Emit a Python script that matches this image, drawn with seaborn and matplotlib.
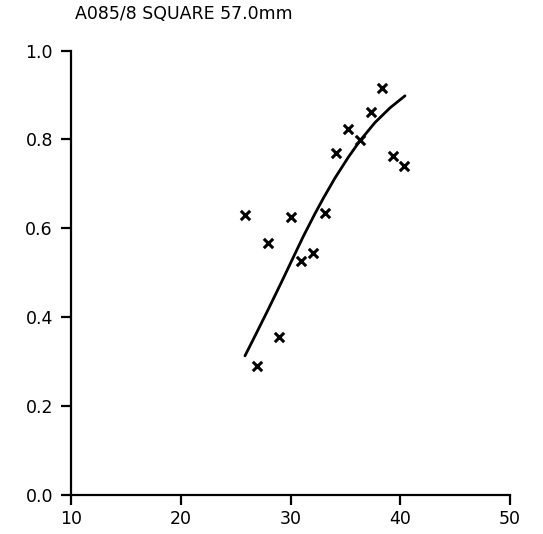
import matplotlib
matplotlib.use("Agg")
import matplotlib.pyplot as plt
import seaborn as sns
import pandas as pd

# scatter data
x_pts = [25.85, 26.92, 27.92, 28.95, 30.02, 30.93, 32.08, 33.14, 34.15, 35.27, 36.33, 37.31, 38.31, 39.37, 40.37]
y_pts = [0.630, 0.290, 0.568, 0.355, 0.626, 0.527, 0.544, 0.634, 0.770, 0.823, 0.799, 0.862, 0.915, 0.763, 0.741]

# fitted curve
x_fit = [25.85, 26.77, 27.98, 29.20, 30.26, 31.17, 32.23, 33.00, 34.05, 35.27, 36.33, 37.70, 39.07, 40.43]
y_fit = [0.313, 0.358, 0.418, 0.480, 0.535, 0.582, 0.633, 0.668, 0.713, 0.760, 0.797, 0.838, 0.871, 0.898]

x_ticks = [10, 20, 30, 40, 50]
y_ticks = [0.0, 0.2, 0.4, 0.6, 0.8, 1.0]
title = "A085/8 SQUARE 57.0mm"

sns.set_style("ticks")
plt.rcParams["font.family"] = ["DejaVu Sans"]
plt.rcParams["text.color"] = "black"

fig = plt.figure(figsize=(5.43, 5.34), dpi=100)
ax = fig.add_axes([71 / 543, 1 - 495 / 534, (510 - 71) / 543, (495 - 50.5) / 534])

pts = pd.DataFrame({"x": x_pts, "y": y_pts})
fit = pd.DataFrame({"x": x_fit, "y": y_fit})

sns.lineplot(data=fit, x="x", y="y", ax=ax, color="black", linewidth=2.0, sort=False)
sns.scatterplot(data=pts, x="x", y="y", ax=ax, marker="x", color="black", s=45, linewidth=2.2)

ax.set_xlim(10, 50)
ax.set_ylim(0, 1.0)
ax.set_xticks(x_ticks)
ax.set_xticklabels([str(v) for v in x_ticks])
ax.set_yticks(y_ticks)
ax.set_yticklabels([f"{v:.1f}" for v in y_ticks])
ax.set_xlabel("")
ax.set_ylabel("")
for s in ["top", "right"]:
    ax.spines[s].set_visible(False)
for s in ["left", "bottom"]:
    ax.spines[s].set_linewidth(1.6)
    ax.spines[s].set_color("black")
ax.tick_params(axis="both", length=7, width=1.6, colors="black", labelsize=12.5, direction="out")
ax.tick_params(axis="y", pad=6)
ax.tick_params(axis="x", pad=4)

fig.text(75 / 543, 1 - 14 / 534, title, ha="left", va="center", fontsize=12.5, color="black")

fig.savefig("out.png", dpi=100, facecolor="white")
